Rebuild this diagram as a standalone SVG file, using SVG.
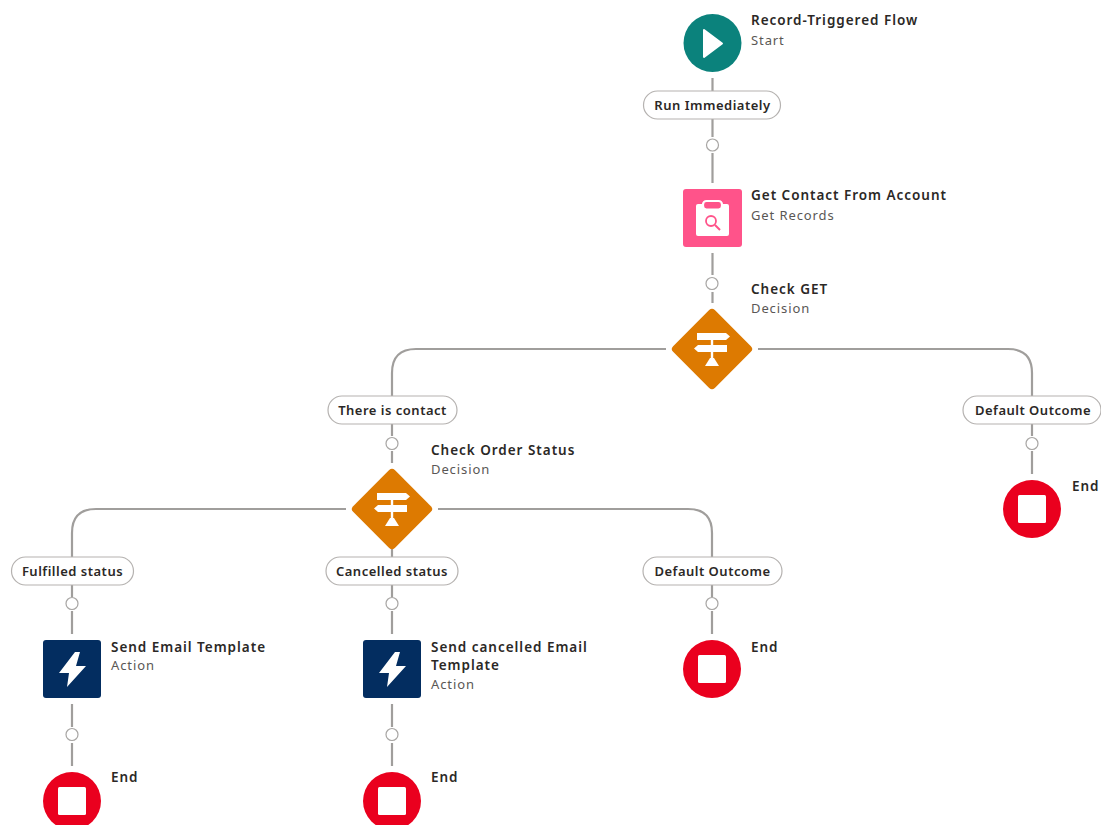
<svg xmlns="http://www.w3.org/2000/svg" width="1101" height="825" viewBox="0 0 1101 825">
<defs>
<style>
text{font-family:"Noto Sans","Open Sans","DejaVu Sans",sans-serif}
.t{font-size:13.5px;font-weight:600;fill:#2b2826;letter-spacing:.97px}
.s{font-size:13px;fill:#5a5755;letter-spacing:.9px}
.p{font-size:13px;font-weight:600;fill:#2b2826;text-anchor:middle;letter-spacing:.5px}
.pill{fill:#fff;stroke:#b5b2b0;stroke-width:1.2}
.c{fill:none;stroke:#a09e9c;stroke-width:2.2}
.dot{fill:#fff;stroke:#a8a6a4;stroke-width:1.2}
.end{fill:#ea001e}
.act{fill:#032d60}
.dec{fill:#dd7a01}
.w{fill:#fff}
</style>
<g id="endIcon"><circle class="end" r="29"/><rect class="w" x="-14" y="-14" width="28" height="28" rx="1.5"/></g>
<g id="actionIcon"><rect class="act" x="-29" y="-29" width="58" height="58" rx="3"/><path class="w" d="M3-17-13 4H-3L-5 18 14-3H4L8-17Z"/></g>
<g id="decisionIcon"><rect class="dec" x="-29.500" y="-29.500" width="59" height="59" rx="4" transform="rotate(45)"/><path class="w" d="M-15-16H14L18-12.500 14-9H-15ZM-18-.500-14-4H15V3H-14ZM-1.200-9H1.200V-4H-1.200ZM-1.200 3H1.200V10H-1.200ZM-2 9H2L7 17H-7Z"/></g>
</defs>
<rect width="1101" height="825" fill="#fff"/>
<g id="connectors">
<path class="c" d="M712.500 78V91M712.500 119V137M712.500 153V183M712.500 253V275M712.500 292V303"/>
<path class="c" d="M666 349H416Q392 349 392 373V396M392 424V436M392 451V463"/>
<path class="c" d="M758 349H1008Q1032 349 1032 373V396M1032 424V436M1032 451V474"/>
<path class="c" d="M346 509H96Q72 509 72 533V557M72 585V597M72 611V634M72 704V727M72 743V766"/>
<path class="c" d="M392 549V557M392 585V597M392 611V634M392 704V727M392 743V766"/>
<path class="c" d="M438 509H688Q712 509 712 533V557M712 585V597M712 611V634"/>
<circle class="dot" cx="712.500" cy="145" r="6"/>
<circle class="dot" cx="712" cy="283.500" r="6"/>
<circle class="dot" cx="392" cy="443.500" r="6"/>
<circle class="dot" cx="1032" cy="443.500" r="6"/>
<circle class="dot" cx="72" cy="603.500" r="6"/>
<circle class="dot" cx="392" cy="603.500" r="6"/>
<circle class="dot" cx="712" cy="603.500" r="6"/>
<circle class="dot" cx="72" cy="734.500" r="6"/>
<circle class="dot" cx="392" cy="734.500" r="6"/>
</g>
<g id="start"><circle cx="712.500" cy="43" r="29" fill="#0b827c"/><path class="w" d="M704 30 722 43.500 704 57Z" stroke="#fff" stroke-width="2" stroke-linejoin="round"/><text class="t" x="751" y="25">Record-Triggered Flow</text><text class="s" x="751" y="45">Start</text></g>
<g id="run-immediately"><rect class="pill" x="643.500" y="91" width="137" height="28" rx="14"/><text class="p" x="712.500" y="110">Run Immediately</text></g>
<g id="get-contact"><rect x="683" y="189" width="59" height="58" rx="3" fill="#ff538a"/><rect class="w" x="696" y="204" width="33" height="32" rx="2"/><rect x="703" y="201" width="19" height="8.500" rx="3.500" fill="#ff538a" stroke="#fff" stroke-width="2.200"/><circle cx="711" cy="221" r="5" fill="none" stroke="#ff538a" stroke-width="1.800"/><path d="M715 225 720 230" stroke="#ff538a" stroke-width="2"/><text class="t" x="751" y="200">Get Contact From Account</text><text class="s" x="751" y="220">Get Records</text></g>
<g id="check-get"><use href="#decisionIcon" x="712" y="349"/><text class="t" x="751" y="294">Check GET</text><text class="s" x="751" y="313">Decision</text></g>
<g id="there-is-contact"><rect class="pill" x="328" y="396" width="129" height="28" rx="14"/><text class="p" x="392.500" y="415">There is contact</text></g>
<g id="default-outcome-1"><rect class="pill" x="963" y="396" width="138" height="28" rx="14"/><text class="p" x="1033" y="415">Default Outcome</text></g>
<g id="end-1"><use href="#endIcon" x="1032" y="509"/><text class="t" x="1072" y="491">End</text></g>
<g id="check-order-status"><use href="#decisionIcon" x="392" y="509"/><text class="t" x="431" y="455">Check Order Status</text><text class="s" x="431" y="474">Decision</text></g>
<g id="fulfilled-status"><rect class="pill" x="11.500" y="557" width="122" height="28" rx="14"/><text class="p" x="72.500" y="576">Fulfilled status</text></g>
<g id="cancelled-status"><rect class="pill" x="326" y="557" width="132" height="28" rx="14"/><text class="p" x="392" y="576">Cancelled status</text></g>
<g id="default-outcome-2"><rect class="pill" x="643" y="557" width="139" height="28" rx="14"/><text class="p" x="712.500" y="576">Default Outcome</text></g>
<g id="send-email"><use href="#actionIcon" x="72" y="669"/><text class="t" x="111" y="652">Send Email Template</text><text class="s" x="111" y="670">Action</text></g>
<g id="send-cancelled"><use href="#actionIcon" x="392" y="669"/><text class="t" x="431" y="652">Send cancelled Email</text><text class="t" x="431" y="670">Template</text><text class="s" x="431" y="689">Action</text></g>
<g id="end-2"><use href="#endIcon" x="712" y="669"/><text class="t" x="751" y="652">End</text></g>
<g id="end-3"><use href="#endIcon" x="72" y="801"/><text class="t" x="111" y="782">End</text></g>
<g id="end-4"><use href="#endIcon" x="392" y="801"/><text class="t" x="431" y="782">End</text></g>
</svg>
